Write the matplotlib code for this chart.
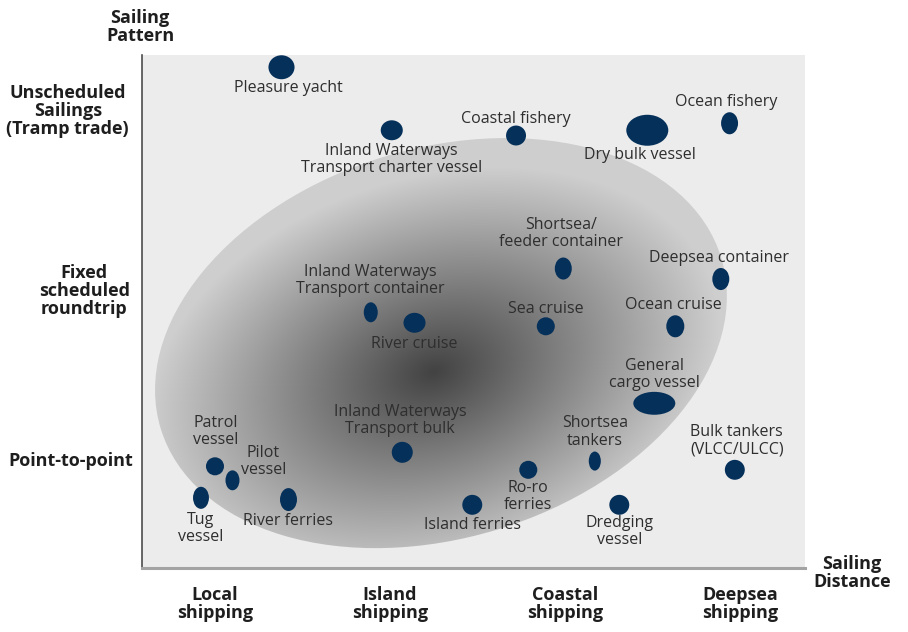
"""Ship types positioned by sailing distance and sailing pattern."""

import numpy as np
import matplotlib.pyplot as plt
from matplotlib.patches import Ellipse

plt.rcParams["font.family"] = ["Open Sans", "DejaVu Sans"]

# sailing distance: 1 = local, 2 = island, 3 = coastal, 4 = deepsea
# sailing pattern: 1 = point-to-point, 2 = fixed roundtrip, 3 = tramp
VESSELS = [
    "Pleasure yacht", "Inland Waterways\nTransport charter vessel",
    "Coastal fishery", "Dry bulk vessel", "Ocean fishery",
    "Shortsea/\nfeeder container", "Deepsea container",
    "Inland Waterways\nTransport container", "River cruise", "Sea cruise",
    "Ocean cruise", "General\ncargo vessel", "Inland Waterways\nTransport bulk",
    "Shortsea\ntankers", "Bulk tankers\n(VLCC/ULCC)", "Patrol\nvessel",
    "Pilot\nvessel", "Tug\nvessel", "River ferries", "Ro-ro\nferries",
    "Island ferries", "Dredging\nvessel",
]
DISTANCE = [1.38, 2.01, 2.72, 3.47, 3.94, 2.99, 3.89, 1.89, 2.14, 2.89,
            3.63, 3.51, 2.07, 3.17, 3.97, 1.00, 1.10, 0.92, 1.42, 2.79,
            2.47, 3.31]
PATTERN = [3.25, 2.89, 2.86, 2.89, 2.93, 2.10, 2.04, 1.85, 1.79, 1.77,
           1.77, 1.33, 1.05, 1.00, 0.95, 0.97, 0.89, 0.79, 0.78, 0.95,
           0.75, 0.75]
# bubble footprint (width, height) in axis units
BUBBLE_W = [0.149, 0.126, 0.114, 0.240, 0.097, 0.097, 0.097, 0.080, 0.126,
            0.103, 0.103, 0.240, 0.120, 0.069, 0.114, 0.103, 0.080, 0.091,
            0.097, 0.103, 0.114, 0.114]
BUBBLE_H = [0.137, 0.114, 0.114, 0.177, 0.126, 0.126, 0.126, 0.114, 0.114,
            0.103, 0.126, 0.131, 0.120, 0.109, 0.114, 0.103, 0.114, 0.126,
            0.131, 0.103, 0.114, 0.114]
# label offsets from the bubble, in pixels (x right, y up)
LABEL_OFF = [(7, -21), (0, -29), (0, 17), (-7, -25), (-3, 21), (-2, 35),
             (-2, 21), (0, 32), (0, -21), (0, 17), (-2, 21), (0, 29),
             (-2, 32), (0, 29), (2, 29), (1, 35), (31, 19), (0, -31),
             (0, -21), (0, -27), (0, -20), (0, -27)]

DIST_TICKS = [1, 2, 3, 4]
DIST_LABELS = ["Local\nshipping", "Island\nshipping", "Coastal\nshipping",
               "Deepsea\nshipping"]
PATTERN_TICKS = [3.0, 1.97, 1.0]
PATTERN_LABELS = ["Unscheduled\nSailings\n(Tramp trade)",
                  "Fixed\nscheduled\nroundtrip", "Point-to-point"]
PATTERN_LABEL_X = [-0.112, -0.087, -0.107]   # axes fraction

DOT_COLOR = "#05305a"
TEXT_COLOR = "#2e2e2e"
HEAD_COLOR = "#1e1e1e"


def draw_core_zone(ax):
    # shaded ellipse, darkest near the inland/coastal middle
    cx, cy, a, b, ang = 2.291, 1.674, 1.674, 1.113, 17.0
    fx, fy = 2.25, 1.51
    xs = np.linspace(0.58, 4.38, 700)
    ys = np.linspace(0.38, 3.33, 550)
    X, Y = np.meshgrid(xs, ys)
    t = np.deg2rad(ang)
    dx, dy = X - fx, Y - fy
    u = dx * np.cos(t) + dy * np.sin(t)
    v = -dx * np.sin(t) + dy * np.cos(t)
    r = np.clip(np.sqrt((u / a) ** 2 + (v / b) ** 2), 0, 1)
    g = 0.26 + (0.81 - 0.26) * r
    rgb = np.dstack([g, g, g])
    im = ax.imshow(rgb, extent=(xs[0], xs[-1], ys[0], ys[-1]),
                   origin="lower", zorder=1, aspect="auto",
                   interpolation="bilinear")
    clip = Ellipse((cx, cy), 2 * a, 2 * b, angle=ang, facecolor="none",
                   edgecolor="none", transform=ax.transData)
    ax.add_patch(clip)
    im.set_clip_path(clip)


def main():
    fig = plt.figure(figsize=(9.08, 6.32), dpi=100)
    ax = fig.add_axes([142 / 908, 64 / 632, 663 / 908, 513 / 632])
    ax.set_facecolor("#ececec")
    ax.set_xlim(0.583, 4.371)
    ax.set_ylim(0.389, 3.32)

    draw_core_zone(ax)

    for i, name in enumerate(VESSELS):
        ax.add_patch(Ellipse((DISTANCE[i], PATTERN[i]), BUBBLE_W[i],
                             BUBBLE_H[i], facecolor=DOT_COLOR,
                             edgecolor="none", zorder=3))
        ax.annotate(name, xy=(DISTANCE[i], PATTERN[i]),
                    xytext=LABEL_OFF[i], textcoords="offset pixels",
                    ha="center", va="center", multialignment="center",
                    fontsize=11.5, color=TEXT_COLOR, linespacing=1.1,
                    zorder=4)

    for s in ["top", "right"]:
        ax.spines[s].set_visible(False)
    ax.spines["left"].set_color("#4d4d4d")
    ax.spines["left"].set_linewidth(1.2)
    ax.spines["bottom"].set_color("#a3a3a3")
    ax.spines["bottom"].set_linewidth(2.2)

    ax.set_xticks(DIST_TICKS)
    ax.set_xticklabels(DIST_LABELS, fontsize=13, fontweight="bold",
                       color=HEAD_COLOR, linespacing=1.0)
    ax.tick_params(axis="x", length=0, pad=13)
    ax.set_yticks([])

    for y, lab, x in zip(PATTERN_TICKS, PATTERN_LABELS, PATTERN_LABEL_X):
        ax.text(x, y, lab, transform=ax.get_yaxis_transform(),
                ha="center", va="center", multialignment="center",
                fontsize=13, fontweight="bold", color=HEAD_COLOR,
                linespacing=1.0, clip_on=False)

    fig.text(140 / 908, 1 - 27 / 632, "Sailing\nPattern", ha="center",
             va="center", fontsize=13, fontweight="bold", color=HEAD_COLOR,
             linespacing=1.0)
    fig.text(852 / 908, 1 - 573 / 632, "Sailing\nDistance", ha="center",
             va="center", fontsize=13, fontweight="bold", color=HEAD_COLOR,
             linespacing=1.0)

    fig.savefig("out.png", dpi=100)


if __name__ == "__main__":
    main()
